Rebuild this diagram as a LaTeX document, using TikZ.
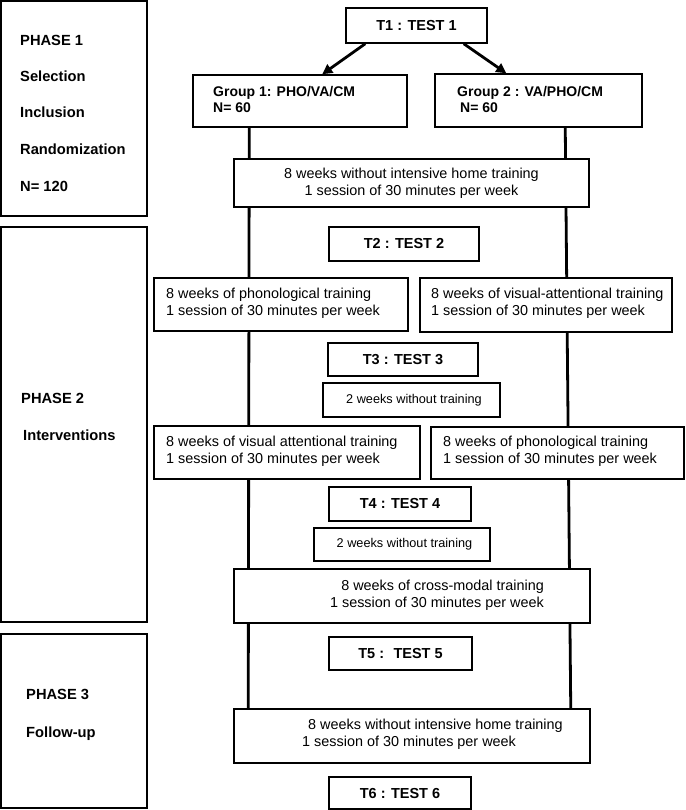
\documentclass[tikz,border=0pt]{standalone}
\usepackage{fontspec}
\setmainfont{Liberation Sans}
\usetikzlibrary{arrows.meta,backgrounds}
\begin{document}
\begin{tikzpicture}[x=1pt,y=-1pt,
  box/.style={draw,line width=1.5pt,fill=white,inner sep=0pt},
  tbox/.style={box,font=\fontsize{14.5}{17}\selectfont\bfseries},
  txt/.style={font=\fontsize{14.4}{17}\selectfont,inner sep=0pt,align=left},
  ctxt/.style={box,font=\fontsize{14.4}{17}\selectfont,align=center},
  small/.style={box,font=\fontsize{12.7}{15}\selectfont},
  grp/.style={font=\fontsize{14}{16.5}\selectfont\bfseries,inner sep=0pt,align=left,anchor=west},
  lbl/.style={font=\fontsize{14.7}{17}\selectfont\bfseries,inner sep=0pt,anchor=base west},
  vline/.style={line width=2.8pt},
  arr/.style={line width=2.8pt,-{Triangle[length=10pt,width=10pt]}}]
\useasboundingbox (0,0) rectangle (685,810);

% phase boxes
\node[box,minimum width=146pt,minimum height=215pt] (ph1) at (74,108.5) {};
\node[box,minimum width=146pt,minimum height=395pt] (ph2) at (74,424.5) {};
\node[box,minimum width=146pt,minimum height=174pt] (ph3) at (74,721) {};

\node[lbl] (l1a) at (20,46) {PHASE 1};
\node[lbl] (l1b) at (20,82) {Selection};
\node[lbl] (l1c) at (20,118) {Inclusion};
\node[lbl] (l1d) at (20,155) {Randomization};
\node[lbl] (l1e) at (20,192) {N= 120};
\node[lbl] (l2a) at (21,403) {PHASE 2};
\node[lbl] (l2b) at (23,440) {Interventions};
\node[lbl] (l3a) at (26,699) {PHASE 3};
\node[lbl] (l3b) at (26,737) {Follow-up};

% tests
\node[tbox,minimum width=141pt,minimum height=35pt] (t1) at (416.5,25.5) {T1 : TEST 1};
\node[tbox,minimum width=150pt,minimum height=34pt] (t2) at (404,244) {T2 : TEST 2};
\node[tbox,minimum width=150pt,minimum height=33pt] (t3) at (403,359.5) {T3 : TEST 3};
\node[tbox,minimum width=142pt,minimum height=34pt] (t4) at (400,504) {T4 : TEST 4};
\node[tbox,minimum width=143pt,minimum height=33pt] (t5) at (400.5,653.5) {T5 :~ TEST 5};
\node[tbox,minimum width=142pt,minimum height=32pt] (t6) at (400,793) {T6 : TEST 6};

% groups
\node[box,minimum width=214pt,minimum height=52pt] (g1) at (300,101) {};
\node[grp] (g1t) at (213,99.5) {Group 1: PHO/VA/CM\\N= 60};
\node[box,minimum width=207pt,minimum height=53pt] (g2) at (538.5,100.5) {};
\node[grp] (g2t) at (457,99.5) {Group 2 : VA/PHO/CM\\\hspace*{3pt}N= 60};

% phase blocks
\node[ctxt,minimum width=355pt,minimum height=48pt] (a1) at (411.5,183) {8 weeks without intensive home training\\1 session of 30 minutes per week};

\node[box,minimum width=254pt,minimum height=53pt] (p1) at (281,304.5) {};
\node[txt,anchor=west] (p1t) at (166,303) {8 weeks of phonological training\\1 session of 30 minutes per week};
\node[box,minimum width=252pt,minimum height=54pt] (v1) at (546,305) {};
\node[txt,anchor=west] (v1t) at (431,303) {8 weeks of visual-attentional training\\1 session of 30 minutes per week};

\node[small,minimum width=177pt,minimum height=34pt] (w1) at (411.5,400) {\hspace*{5pt}2 weeks without training};

\node[box,minimum width=266pt,minimum height=53pt] (v2) at (287,452.5) {};
\node[txt,anchor=west] (v2t) at (166,451) {8 weeks of visual attentional training\\1 session of 30 minutes per week};
\node[box,minimum width=253pt,minimum height=52pt] (p2) at (557.5,453) {};
\node[txt,anchor=west] (p2t) at (443,451) {8 weeks of phonological training\\1 session of 30 minutes per week};

\node[small,minimum width=176pt,minimum height=33pt] (w2) at (402,544.5) {\hspace*{5pt}2 weeks without training};

\node[box,minimum width=356pt,minimum height=54pt] (cm) at (412,596) {};
\node[txt,align=right,anchor=east] (cmt) at (544,595.5) {8 weeks of cross-modal training\\1 session of 30 minutes per week};

\node[box,minimum width=356pt,minimum height=54pt] (fu) at (412,736) {};
\node[txt,anchor=west] (fut) at (302,734.5) {\hspace*{6pt}8 weeks without intensive home training\\1 session of 30 minutes per week};

% arrows
\draw[arr] ([xshift=20pt]t1.south west) -- ([xshift=130pt]g1.north west);
\draw[arr] ([xshift=-24pt]t1.south east) -- ([xshift=72pt]g2.north west);

% vertical lines
\begin{scope}[on background layer]
\draw[vline] ([xshift=57pt]g1.south west) -- ([xshift=15pt]fu.north west);
\draw[vline] ([xshift=131pt]g2.south west) -- ([xshift=-20pt]fu.north east);
\end{scope}
\end{tikzpicture}
\end{document}
